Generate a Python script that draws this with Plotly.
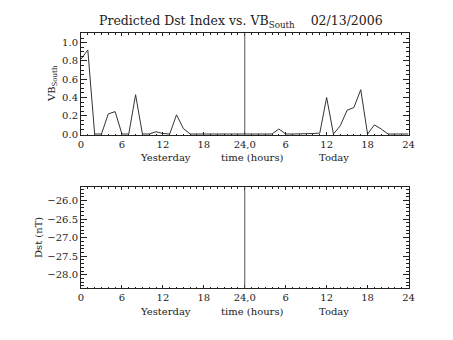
import plotly.graph_objects as go

# Hourly samples spanning yesterday (0-24) and today (24-48)
hours = list(range(49))
vb_south = [0.82, 0.92, 0.0, 0.0, 0.22, 0.245, 0.0, 0.0, 0.43, 0.0,
            0.0, 0.025, 0.005, 0.0, 0.21, 0.06, 0.0, 0.0, 0.0, 0.0,
            0.0, 0.0, 0.0, 0.0, 0.0, 0.0, 0.0, 0.0, 0.0, 0.055,
            0.0, 0.0, 0.0, 0.0, 0.005, 0.01, 0.40, 0.0, 0.09, 0.26,
            0.29, 0.485, 0.0, 0.10, 0.055, 0.0, 0.0, 0.0, 0.0]

x_tickvals = [0, 6, 12, 18, 24, 30, 36, 42, 48]
x_ticktext = ["0", "6", "12", "18", "24,0", "6", "12", "18", "24"]
vb_tickvals = [0.0, 0.2, 0.4, 0.6, 0.8, 1.0]
dst_tickvals = [-26.0, -26.5, -27.0, -27.5, -28.0]

FONT = "DejaVu Serif"
INK = "#222222"
W, H = 453, 340

fig = go.Figure()
fig.add_trace(go.Scatter(x=hours, y=vb_south, mode="lines",
                         line=dict(color="#333333", width=1),
                         xaxis="x", yaxis="y", showlegend=False))

def px_x(a, b):
    return [a / W, b / W]

def px_y(top, bottom):
    return [1 - bottom / H, 1 - top / H]

xdom = px_x(81, 408.5)
common_x = dict(range=[0, 48], tickvals=x_tickvals, ticktext=x_ticktext,
                ticks="inside", ticklen=3, tickcolor=INK, tickwidth=1,
                showline=True, linecolor=INK, linewidth=1, mirror="ticks",
                showgrid=False, zeroline=False, domain=xdom, automargin=False,
                minor=dict(dtick=1, ticks="inside", ticklen=1.5,
                           tickcolor=INK, showgrid=False),
                tickfont=dict(family=FONT, size=10, color=INK))
common_y = dict(ticks="inside", ticklen=6, tickcolor=INK, tickwidth=1,
                showline=True, linecolor=INK, linewidth=1, mirror="ticks",
                showgrid=False, zeroline=False, automargin=False,
                tickfont=dict(family=FONT, size=10, color=INK))

fig.update_layout(
    width=W, height=H,
    margin=dict(l=0, r=0, t=0, b=0, pad=0, autoexpand=False),
    paper_bgcolor="white", plot_bgcolor="white",
    xaxis=dict(**common_x, anchor="y"),
    yaxis=dict(**common_y, range=[-0.011, 1.106], domain=px_y(33, 135),
               tickvals=vb_tickvals, ticktext=["%.1f" % v for v in vb_tickvals],
               minor=dict(dtick=0.05, ticks="inside", ticklen=3,
                          tickcolor=INK, showgrid=False), anchor="x"),
    xaxis2=dict(**common_x, anchor="y2"),
    yaxis2=dict(**common_y, range=[-28.365, -25.635], domain=px_y(187, 288.3),
                tickvals=dst_tickvals,
                ticktext=["\u2212%.1f" % abs(v) for v in dst_tickvals],
                minor=dict(dtick=0.1, ticks="inside", ticklen=3,
                           tickcolor=INK, showgrid=False), anchor="x2"),
)

# Midnight divider in both panels
for xr, yr in (("x", "y domain"), ("x2", "y2 domain")):
    fig.add_shape(type="line", xref=xr, yref=yr, x0=24, x1=24, y0=0, y1=1,
                  line=dict(color="#555555", width=1))

def label(text, x, y, size=10, angle=0):
    fig.add_annotation(text=text, x=x / W, y=1 - y / H, xref="paper", yref="paper",
                       xanchor="center", yanchor="middle",
                       showarrow=False, textangle=angle,
                       font=dict(family=FONT, size=size, color=INK))

label("Predicted Dst Index vs. VB<sub>South</sub>    02/13/2006", 241, 22, size=12.5)
for y in (157, 311):
    label("Yesterday", 165, y)
    label("time (hours)", 252.5, y)
    label("Today", 334, y)
label("VB<sub>South</sub>", 52, 84, angle=-90)
label("Dst (nT)", 38.5, 237.5, angle=-90)

fig.write_html("out.html")
